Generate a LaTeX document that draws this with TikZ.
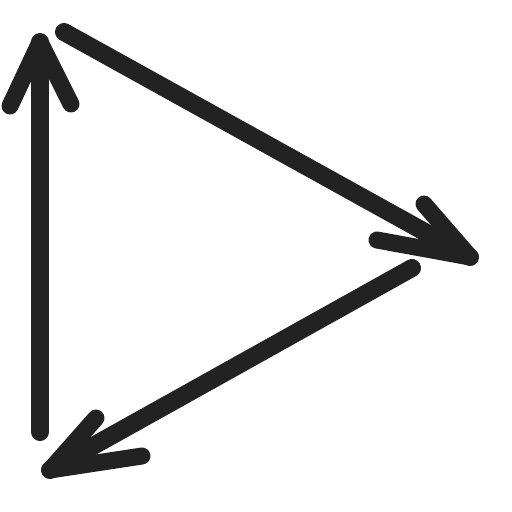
\documentclass[tikz,border=0pt]{standalone}
\definecolor{ink}{HTML}{222222}
\tikzset{
  shaft/.style={draw=ink, line width=18*0.02cm, line cap=round, line join=round},
  headline/.style={draw=ink, line width=17*0.02cm, line cap=round, line join=round}
}
\begin{document}
\begin{tikzpicture}[x=0.02cm,y=-0.02cm]
\useasboundingbox (0,0) rectangle (512,512);
% arrow 1: vertical, pointing up
\coordinate (a1s) at (40,432);
\coordinate (a1t) at (40,42);
\coordinate (a1l) at (10,106);
\coordinate (a1r) at (71,104);
\draw[shaft] (a1s) -- (a1t);
\draw[headline] (a1l) -- (a1t) -- (a1r);
% arrow 2: top-left to right
\coordinate (a2s) at (64,32);
\coordinate (a2t) at (470,257);
\coordinate (a2l) at (424,204);
\coordinate (a2r) at (377,240);
\draw[shaft] (a2s) -- (a2t);
\draw[headline] (a2l) -- (a2t) -- (a2r);
% arrow 3: right to bottom-left
\coordinate (a3s) at (412,268);
\coordinate (a3t) at (50,470);
\coordinate (a3l) at (96,418);
\coordinate (a3r) at (142,456);
\draw[shaft] (a3s) -- (a3t);
\draw[headline] (a3l) -- (a3t) -- (a3r);
\end{tikzpicture}
\end{document}
